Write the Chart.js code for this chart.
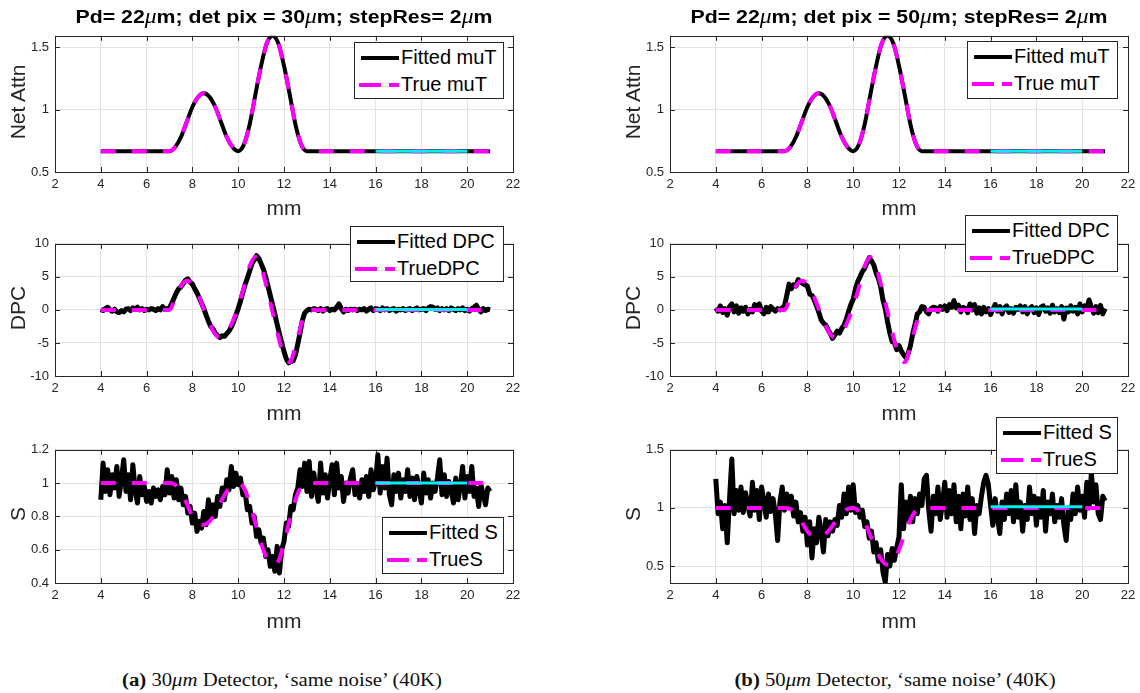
<!DOCTYPE html>
<html>
<head>
<meta charset="utf-8">
<script src="https://cdn.jsdelivr.net/npm/chart.js@4.4.1/dist/chart.umd.min.js"></script>
<style>
  body { margin:0; width:1140px; height:693px; position:relative; overflow:hidden; background:#fff;
         font-family:"Liberation Sans", Arial, sans-serif; color:#262626; }
  canvas { position:absolute; }
  .t { position:absolute; white-space:nowrap; transform:translate(-50%,-50%); }
  .title { font-weight:bold; font-size:19px; color:#000; transform:translate(-50%,-50%) scaleX(1.12); }
  .title i { font-family:"Liberation Serif", serif; font-weight:normal; font-size:21px; }
  .xlab { font-size:21px; }
  .ylab { font-size:21px; transform:translate(-50%,-50%) rotate(-90deg); }
  .leg { position:absolute; background:#fff; border:1px solid #262626; box-sizing:border-box;
         font-size:20px; color:#000; padding-top:1px; }
  .leg div { position:relative; height:27px; line-height:27px; padding-left:46px; }
  .leg .s  { position:absolute; left:6px; top:12px; width:38px; height:4px; background:#000; }
  .leg .d1 { position:absolute; left:4px; top:12px; width:22px; height:4px; background:#ff00ff; }
  .leg .d2 { position:absolute; left:34px; top:12px; width:10px; height:4px; background:#ff00ff; }
  .cap { font-family:"Liberation Serif", serif; font-size:18.5px; color:#111; transform:translate(-50%,-50%) scaleX(1.12); }
</style>
</head>
<body>
<div class="t title" style="left:284px;top:16px">Pd= 22<i>μ</i>m; det pix = 30<i>μ</i>m; stepRes= 2<i>μ</i>m</div>
<div class="t title" style="left:899px;top:16px">Pd= 22<i>μ</i>m; det pix = 50<i>μ</i>m; stepRes= 2<i>μ</i>m</div>

<div class="t ylab" style="left:18px;top:102px">Net Attn</div>
<div class="t ylab" style="left:18px;top:308px">DPC</div>
<div class="t ylab" style="left:18px;top:514px">S</div>
<div class="t ylab" style="left:633px;top:102px">Net Attn</div>
<div class="t ylab" style="left:633px;top:308px">DPC</div>
<div class="t ylab" style="left:633px;top:514px">S</div>

<div class="t xlab" style="left:284px;top:208px">mm</div>
<div class="t xlab" style="left:284px;top:413px">mm</div>
<div class="t xlab" style="left:284px;top:621px">mm</div>
<div class="t xlab" style="left:899px;top:208px">mm</div>
<div class="t xlab" style="left:899px;top:413px">mm</div>
<div class="t xlab" style="left:899px;top:621px">mm</div>

<div class="t cap" style="left:282px;top:680px"><b>(a)</b> 30<i>μm</i> Detector, ‘same noise’ (40K)</div>
<div class="t cap" style="left:895px;top:680px"><b>(b)</b> 50<i>μm</i> Detector, ‘same noise’ (40K)</div>

<script>
// ---- tick labels ----
const xTicks   = [2, 4, 6, 8, 10, 12, 14, 16, 18, 20, 22];
const muTicks  = [0.5, 1, 1.5];
const dpcTicks = [-10, -5, 0, 5, 10];
const sTicks30 = [0.4, 0.6, 0.8, 1, 1.2];
const sTicks50 = [0.5, 1, 1.5];

// ---- true profiles (mm, value) ----
const muX     = [4, 6.5, 7, 7.25, 7.5, 7.75, 8, 8.25, 8.5, 8.75, 9, 9.25, 9.5, 9.75, 10,
                 10.25, 10.5, 10.75, 11, 11.25, 11.5, 11.75, 12, 12.25, 12.5, 12.75, 13, 13.5, 21];
const trueMuT = [0.667, 0.667, 0.667, 0.70, 0.78, 0.90, 1.02, 1.10, 1.13, 1.10, 1.02, 0.90, 0.78, 0.70, 0.667,
                 0.72, 0.88, 1.12, 1.35, 1.53, 1.59, 1.53, 1.35, 1.12, 0.88, 0.72, 0.667, 0.667, 0.667];

const dpcX    = [4, 6.5, 7, 7.25, 7.5, 7.75, 8, 8.25, 8.5, 8.75, 9, 9.25, 9.5, 9.75, 10,
                 10.25, 10.5, 10.75, 11, 11.25, 11.5, 11.75, 12, 12.25, 12.5, 12.75, 13, 13.5, 21];
const trueDPC = [0, 0, 0, 1.8, 3.6, 4.4, 3.9, 2.3, 0.1, -2.0, -3.7, -4.2, -3.4, -1.8, 0.5,
                 3.4, 6.6, 8.0, 6.5, 3.3, -0.3, -4.0, -7.0, -7.9, -5.5, -2.2, 0, 0, 0];

const sX      = [4, 6.5, 7, 7.25, 7.5, 7.75, 8, 8.25, 8.5, 8.75, 9, 9.25, 9.5, 9.75, 10,
                 10.25, 10.5, 10.75, 11, 11.25, 11.5, 11.75, 12, 12.25, 12.5, 12.75, 13, 13.5, 21];
const trueS   = [1, 1, 1, 0.99, 0.95, 0.88, 0.80, 0.755, 0.75, 0.77, 0.82, 0.89, 0.95, 0.99, 1.0,
                 0.97, 0.88, 0.76, 0.64, 0.55, 0.51, 0.53, 0.64, 0.78, 0.90, 0.98, 1, 1, 1];

// ---- cyan reference segment (16..20 mm) ----
const cyanX     = [16, 20];
const cyanMu30  = [0.667, 0.667];
const cyanMu50  = [0.667, 0.667];
const cyanDPC30 = [0.05, 0.05];
const cyanDPC50 = [0.15, 0.15];
const cyanS30   = [1.0, 1.0];
const cyanS50   = [1.01, 1.01];

// ---- fitted scans, one value every 0.1 mm from 4 to 21 mm ----
const fitDPC30 = [
  0.1,-0.1,0.2,0.4,0.0,-0.2,0.1,-0.3,-0.4,-0.1, -0.3,0.1,0.2,-0.1,0.3,0.1,0.4,0.0,0.2,-0.1,
  0.1,0.0,0.2,0.1,-0.1,0.2,0.0,0.5,0.1,0.2, 0.3,1.0,1.8,2.6,3.2,3.5,4.0,4.5,4.7,4.2,
  3.9,3.2,2.6,1.8,1.0,0.2,-0.8,-1.7,-2.5,-2.9, -3.5,-3.9,-4.2,-3.9,-4.0,-3.6,-3.2,-2.6,-1.8,-0.8,
  0.2,1.3,2.6,3.8,4.8,5.9,7.0,7.6,8.2,7.8, 7.0,6.2,5.0,3.6,2.2,0.8,-0.6,-2.2,-3.6,-5.0,
  -6.3,-7.4,-8.0,-7.8,-7.7,-6.8,-5.2,-3.5,-1.6,-0.5, -0.1,0.1,0.0,0.2,0.1,-0.1,0.2,-0.2,0.1,0.2,
  -0.1,0.1,0.0,0.4,0.9,0.2,-0.3,0.1,-0.1,0.1, 0.0,0.1,-0.1,0.1,0.0,0.2,-0.2,0.1,0.3,-0.1,
  0.2,0.1,-0.1,0.3,0.0,0.2,-0.1,0.1,0.2,-0.2, 0.1,0.0,0.2,-0.1,0.1,0.2,-0.1,0.1,0.3,0.0,
  0.1,0.2,-0.1,0.3,0.5,0.4,0.1,0.3,-0.1,0.2, 0.0,0.2,-0.1,0.3,0.1,-0.1,0.2,0.0,0.3,-0.1,
  0.1,-0.2,0.2,0.4,0.7,0.1,-0.3,0.2,-0.1,0.1, 0.0
];
const fitDPC50 = [
  0.3,-0.2,0.6,-0.4,0.2,-0.8,0.5,0.9,-0.3,0.6, -0.5,0.3,-0.2,0.4,-0.6,0.1,-0.3,0.8,0.2,0.9,
  -0.2,-0.6,0.4,-0.3,0.5,0.1,-0.2,0.2,0.0,0.3, 0.6,2.2,3.9,3.2,3.8,3.6,4.6,4.2,4.0,3.8,
  3.6,2.4,2.2,1.5,0.6,-0.4,-1.5,-2.0,-2.3,-3.0, -3.6,-4.3,-3.8,-3.2,-3.5,-2.8,-2.3,-1.4,-0.2,0.8,
  1.6,3.2,4.3,5.0,5.8,6.3,7.1,7.9,7.4,6.8, 5.6,4.8,3.5,1.5,0.2,-1.8,-3.5,-4.8,-5.0,-6.0,
  -5.4,-6.2,-6.8,-7.2,-6.6,-5.4,-3.6,-2.2,-0.6,-0.3, 0.5,0.4,-0.3,-0.6,0.2,0.4,0.3,-0.2,0.5,0.1,
  0.6,-0.1,0.8,0.4,1.4,0.3,0.7,-0.3,0.4,0.2, -0.4,0.9,0.0,0.8,-0.5,0.3,-0.6,0.4,-0.3,0.2,
  -0.7,0.1,0.8,-0.2,0.5,-0.6,0.3,0.6,-0.4,0.2, -0.5,0.4,0.1,0.6,-0.3,0.5,-0.6,0.2,0.5,-0.4,
  0.3,-0.7,0.4,0.6,-0.2,0.3,-0.5,0.7,-0.3,0.2, -0.4,0.5,-1.4,0.3,-0.3,0.6,-0.2,0.4,-0.6,0.9,
  -0.3,0.6,0.2,1.5,0.4,-0.5,0.5,-0.4,0.7,-0.6, 0.2
];
const fitS30 = [
  0.90,1.12,0.95,1.08,0.93,1.05,0.97,1.10,0.92,1.02, 1.14,0.95,1.05,0.90,1.11,0.96,0.88,1.04,0.93,0.98,
  0.89,0.95,0.88,0.97,0.92,0.96,0.90,0.98,0.93,1.08, 0.94,1.04,0.91,1.02,0.90,0.97,0.87,0.92,0.82,0.86,
  0.76,0.82,0.71,0.77,0.73,0.83,0.75,0.90,0.80,0.87, 0.80,0.92,0.86,0.97,0.90,1.02,0.96,1.10,0.98,1.06,
  0.99,1.03,0.93,0.95,0.84,0.86,0.76,0.80,0.68,0.72, 0.64,0.67,0.56,0.60,0.50,0.56,0.47,0.62,0.46,0.60,
  0.65,0.76,0.74,0.86,0.84,0.93,0.97,1.08,0.98,1.12, 0.95,1.13,0.92,1.06,0.96,0.89,1.12,0.94,1.05,0.91,
  1.02,1.11,0.93,1.12,0.97,1.04,0.89,1.00,0.94,1.03, 1.08,0.93,0.99,0.91,1.02,0.95,1.04,0.92,1.08,0.96,
  1.01,1.17,0.94,1.10,0.97,1.15,0.93,0.87,1.05,0.95, 1.06,0.91,1.02,0.95,1.08,0.92,1.03,0.90,1.04,0.96,
  0.88,1.06,0.94,1.02,0.91,1.00,0.95,1.03,1.14,0.93, 1.05,0.92,1.01,0.96,0.88,1.03,0.90,0.98,1.10,0.91,
  1.04,0.95,1.10,0.92,0.97,0.86,0.99,0.93,0.87,0.97, 0.95
];
const fitS50 = [
  1.25,0.95,1.05,0.82,1.02,0.70,1.08,1.42,0.95,1.15, 0.98,1.18,0.96,1.13,1.02,0.93,1.22,0.98,1.15,0.90,
  1.18,1.05,0.92,1.12,0.97,1.08,0.95,0.72,1.05,1.18, 0.98,1.12,1.00,1.10,0.93,1.05,0.88,0.96,0.80,0.92,
  0.68,0.88,0.57,0.82,0.70,0.92,0.80,0.62,0.90,0.76, 0.88,0.80,0.90,0.85,1.02,0.92,1.12,0.95,1.18,0.98,
  1.20,0.96,1.02,0.92,0.98,0.84,0.88,0.74,0.80,0.62, 0.70,0.54,0.64,0.45,0.36,0.60,0.50,0.65,0.55,0.66,
  0.75,1.20,0.82,1.05,0.90,1.10,0.88,1.08,0.95,1.12, 1.02,1.25,1.28,0.98,0.80,1.10,0.95,1.18,0.90,1.05,
  1.22,0.92,1.15,0.95,1.20,0.88,1.10,0.82,1.12,0.93, 1.18,0.90,1.08,0.78,1.02,0.95,1.10,1.22,1.28,1.20,
  1.02,0.85,1.08,0.92,0.78,1.05,0.90,1.12,0.95,1.15, 0.88,1.20,0.92,1.05,0.80,1.02,0.90,1.18,0.95,1.10,
  0.85,1.08,0.92,1.15,0.80,1.05,0.95,1.12,0.88,1.02, 0.92,1.08,0.85,0.72,1.00,0.90,1.12,0.95,1.18,0.98,
  1.10,0.92,1.22,1.00,1.30,1.05,1.20,0.95,0.90,1.10, 1.06
];

// sample positions of the scans (0.1 mm pitch starting at 4 mm)
const scanMM = fitDPC30.map((_, i) => Math.round((4 + i * 0.1) * 10) / 10);

const pts = (xs, ys) => xs.map((x, i) => ({ x: x, y: ys[i] }));

// ---- datasets ----
function fitted(xs, ys, smooth) {
  return { data: pts(xs, ys), borderColor: '#000', borderWidth: smooth ? 4 : 5, pointRadius: 0, order: 3,
           borderJoinStyle: 'round', cubicInterpolationMode: smooth ? 'monotone' : 'default', tension: 0 };
}
function truth(xs, ys) {
  return { data: pts(xs, ys), borderColor: '#ff00ff', borderWidth: 4, pointRadius: 0, order: 2,
           borderDash: [15, 16], cubicInterpolationMode: 'monotone' };
}
function cyan(ys) {
  return { data: pts(cyanX, ys), borderColor: '#00eef2', borderWidth: 3, pointRadius: 0, order: 1 };
}

// ---- layout of the six axes ----
const FONT = '"Liberation Sans", Arial, sans-serif';
const PAD_L = 46, PAD_T = 10, PAD_R = 16, PAD_B = 26;

const boxPlugin = {
  id: 'matlabBox',
  afterDatasetsDraw(chart) {
    const { ctx, chartArea: a, scales } = chart;
    ctx.save();
    ctx.strokeStyle = '#262626';
    ctx.lineWidth = 1;
    ctx.beginPath();
    scales.x.ticks.forEach(t => {
      const px = Math.round(scales.x.getPixelForValue(t.value)) + 0.5;
      ctx.moveTo(px, a.bottom); ctx.lineTo(px, a.bottom - 5);
      ctx.moveTo(px, a.top);    ctx.lineTo(px, a.top + 5);
    });
    scales.y.ticks.forEach(t => {
      const py = Math.round(scales.y.getPixelForValue(t.value)) + 0.5;
      ctx.moveTo(a.left, py);  ctx.lineTo(a.left + 5, py);
      ctx.moveTo(a.right, py); ctx.lineTo(a.right - 5, py);
    });
    ctx.stroke();
    ctx.strokeRect(Math.round(a.left) + 0.5, Math.round(a.top) + 0.5,
                   Math.round(a.right - a.left), Math.round(a.bottom - a.top));
    ctx.restore();
  }
};

function makePanel(xl, xr, yt, yb, yMin, yMax, yTicks, datasets) {
  const cv = document.createElement('canvas');
  const w = PAD_L + (xr - xl) + PAD_R, h = PAD_T + (yb - yt) + PAD_B;
  cv.width = w; cv.height = h;
  cv.style.left = (xl - PAD_L) + 'px';
  cv.style.top = (yt - PAD_T) + 'px';
  cv.style.width = w + 'px';
  cv.style.height = h + 'px';
  document.body.insertBefore(cv, document.body.firstChild);
  const tickFont = { family: FONT, size: 13 };
  new Chart(cv.getContext('2d'), {
    type: 'line',
    data: { datasets: datasets },
    options: {
      responsive: false, animation: false, events: [],
      layout: { padding: { top: PAD_T, right: PAD_R, left: 0, bottom: 0 } },
      plugins: { legend: { display: false }, tooltip: { enabled: false } },
      scales: {
        x: {
          type: 'linear', min: 2, max: 22,
          afterFit: s => { s.height = PAD_B; },
          afterBuildTicks: s => { s.ticks = xTicks.map(v => ({ value: v })); },
          grid: { color: '#e3e3e3', drawTicks: false },
          border: { display: false },
          ticks: { padding: 5, color: '#262626', font: tickFont, maxRotation: 0, autoSkip: false,
                   callback: v => String(v) }
        },
        y: {
          type: 'linear', min: yMin, max: yMax,
          afterFit: s => { s.width = PAD_L; },
          afterBuildTicks: s => { s.ticks = yTicks.map(v => ({ value: v })); },
          grid: { color: '#e3e3e3', drawTicks: false },
          border: { display: false },
          ticks: { padding: 6, color: '#262626', font: tickFont, autoSkip: false,
                   callback: v => String(v) }
        }
      }
    },
    plugins: [boxPlugin]
  });
}

const colA = [55, 513], colB = [670, 1128];
const rows = [[32, 172], [240, 376], [446, 583]];

makePanel(colA[0], colA[1], rows[0][0], rows[0][1], 0.5, 1.59, muTicks,
  [fitted(muX, trueMuT, true), truth(muX, trueMuT), cyan(cyanMu30)]);
makePanel(colB[0], colB[1], rows[0][0], rows[0][1], 0.5, 1.59, muTicks,
  [fitted(muX, trueMuT, true), truth(muX, trueMuT), cyan(cyanMu50)]);
makePanel(colA[0], colA[1], rows[1][0], rows[1][1], -10, 10, dpcTicks,
  [fitted(scanMM, fitDPC30), truth(dpcX, trueDPC), cyan(cyanDPC30)]);
makePanel(colB[0], colB[1], rows[1][0], rows[1][1], -10, 10, dpcTicks,
  [fitted(scanMM, fitDPC50), truth(dpcX, trueDPC), cyan(cyanDPC50)]);
makePanel(colA[0], colA[1], rows[2][0], rows[2][1], 0.4, 1.2, sTicks30,
  [fitted(scanMM, fitS30), truth(sX, trueS), cyan(cyanS30)]);
makePanel(colB[0], colB[1], rows[2][0], rows[2][1], 0.354, 1.5, sTicks50,
  [fitted(scanMM, fitS50), truth(sX, trueS), cyan(cyanS50)]);
</script>

<div class="leg" style="left:354px;top:42px;width:150px;height:57px">
  <div><span class="s"></span>Fitted muT</div><div><span class="d1"></span><span class="d2"></span>True muT</div></div>
<div class="leg" style="left:967px;top:41px;width:151px;height:58px">
  <div><span class="s"></span>Fitted muT</div><div><span class="d1"></span><span class="d2"></span>True muT</div></div>
<div class="leg" style="left:350px;top:226px;width:154px;height:56px">
  <div><span class="s"></span>Fitted DPC</div><div><span class="d1"></span><span class="d2"></span>TrueDPC</div></div>
<div class="leg" style="left:965px;top:215px;width:153px;height:57px">
  <div><span class="s"></span>Fitted DPC</div><div><span class="d1"></span><span class="d2"></span>TrueDPC</div></div>
<div class="leg" style="left:382px;top:517px;width:122px;height:57px">
  <div><span class="s"></span>Fitted S</div><div><span class="d1"></span><span class="d2"></span>TrueS</div></div>
<div class="leg" style="left:996px;top:417px;width:122px;height:57px">
  <div><span class="s"></span>Fitted S</div><div><span class="d1"></span><span class="d2"></span>TrueS</div></div>
</body>
</html>
